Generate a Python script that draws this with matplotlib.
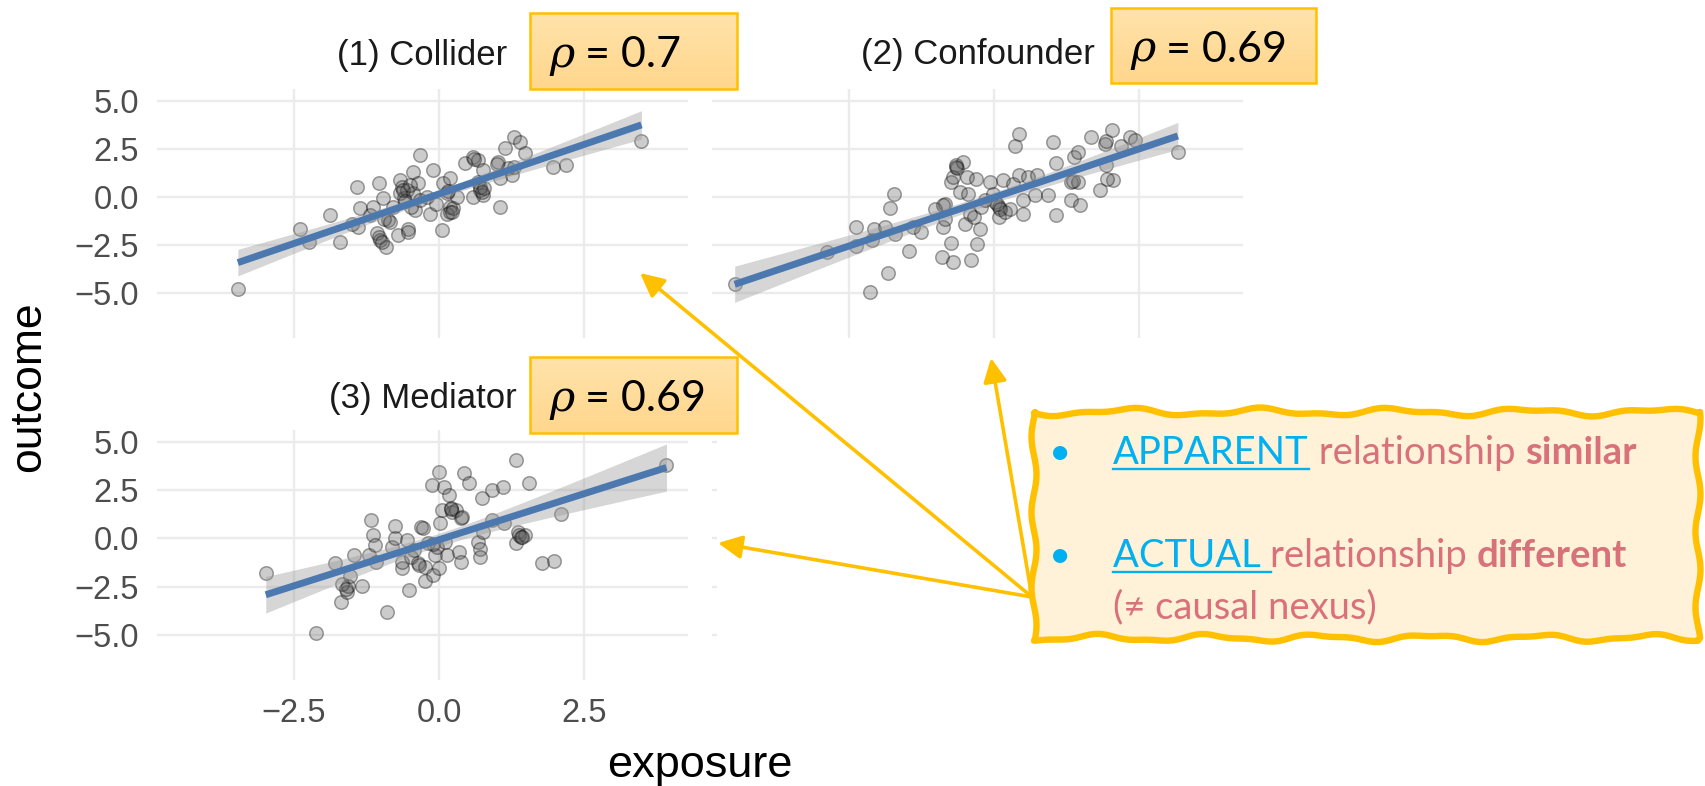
import numpy as np
import matplotlib
matplotlib.use("Agg")
import matplotlib.pyplot as plt
from matplotlib.patches import Polygon, Rectangle, FancyArrowPatch
from matplotlib.lines import Line2D
from matplotlib import font_manager

# ---------------- data ----------------
panel_titles = ["(1) Collider", "(2) Confounder", "(3) Mediator"]
rho_values = ["0.7", "0.69", "0.69"]
x_ticks = [-2.5, 0.0, 2.5]
y_ticks = [-5.0, -2.5, 0.0, 2.5, 5.0]
x_label = "exposure"
y_label = "outcome"

collider_x = [-3.46, -2.39, -2.24, -1.87, -1.70, -1.41, -1.36, -1.39, -1.50, -1.19, -1.13, -1.03,
              -0.97, -1.07, -1.01, -0.91, -1.03, -0.87, -0.95, -0.79, -0.70, -0.67, -0.67, -0.64,
              -0.61, -0.55, -0.53, -0.53, -0.44, -0.44, -0.41, -0.36, -0.33, -0.33, -0.21, -0.16,
              -0.10, -0.05, 0.05, 0.07, 0.13, 0.18, 0.18, 0.13, 0.19, 0.24, 0.30, 0.45, 0.59, 0.59,
              0.67, 0.67, 0.70, 0.76, 0.76, 0.70, 1.05, 1.05, 1.02, 1.13, 1.19, 1.25, 1.28, 1.39,
              1.48, 1.28, 1.96, 2.19, 3.48, -0.62, -0.50, -0.58, 0.74, 0.78, 0.22, -0.48, 0.60,
              -0.98, -0.85, 1.00, 0.15]
collider_y = [-4.76, -1.66, -2.31, -0.93, -2.31, 0.50, -0.55, -1.54, -1.38, -0.93, -0.50, 0.71,
              -0.05, -1.88, -2.23, -2.57, -2.05, -1.21, -1.14, -0.50, -1.98, 0.88, 0.19, 0.54,
              -0.07, 0.38, -1.64, -1.80, 1.31, 0.19, -0.67, 0.71, 2.17, -0.17, 0.00, -0.86,
              1.40, -0.34, -1.72, 0.71, 0.19, 0.97, -0.50, -0.86, -0.76, -0.59, 0.00, 1.74, 2.09, 0.00,
              1.91, 0.79, 0.38, 1.40, 0.09, 0.54, -0.50, 0.97, 1.83, 2.52, 1.48, 1.14, 3.12, 2.86,
              2.26, 1.57, 1.57, 1.66, 2.92, 0.35, 0.60, -0.20, 0.25, 0.45, -0.80, -0.52, 1.95,
              -2.35, -1.30, 1.70, 0.30]

confounder_x = [-4.46, -2.87, -2.37, -2.37, -2.10, -2.07, -2.13, -1.82, -1.88, -1.79, -1.72, -1.70,
                -1.46, -1.39, -1.25, -1.02, -0.90, -0.87, -0.85, -0.84, -0.74, -0.71, -0.74, -0.71,
                -0.65, -0.64, -0.59, -0.53, -0.50, -0.47, -0.44, -0.41, -0.39, -0.34, -0.31, -0.30,
                -0.25, -0.22, -0.16, -0.07, -0.01, 0.02, 0.09, 0.09, 0.15, 0.18, 0.27, 0.33, 0.36,
                0.42, 0.42, 0.49, 0.49, 0.58, 0.70, 0.73, 0.92, 1.01, 1.06, 1.07, 1.32, 1.32, 1.38,
                1.44, 1.45, 1.47, 1.67, 1.82, 1.90, 1.93, 1.93, 2.02, 2.05, 2.18, 2.33, 2.42, 3.16,
                -0.66, -0.88, 0.05, 0.10, 1.95, 1.35]
confounder_y = [-4.52, -2.84, -1.55, -2.53, -2.21, -1.64, -4.95, -3.93, -1.55, -0.57, 0.17, -1.93,
                -2.79, -1.55, -1.81, -0.60, -3.10, -1.55, -0.34, -1.12, -2.38, -3.36, 0.78, 1.03,
                1.64, 1.50, 0.26, 1.81, -1.38, 1.03, 0.17, -0.86, -3.28, -1.03, 0.95, -2.45,
                -1.64, -0.52, -0.17, 0.78, 0.17, -0.26, -0.52, -1.03, 0.86, -0.78, -0.60, 0.69, 2.67,
                3.28, 1.12, -0.17, -0.86, 1.03, 0.09, 1.12, 0.09, 2.84, -0.95, 1.76, 0.78, -0.14, 2.07,
                2.33, 0.78, -0.43, 3.10, 0.34, 2.76, 2.90, 1.64, 3.48, 0.90, 2.67, 3.10, 2.97, 2.33,
                1.58, -0.40, -0.35, -0.60, 0.95, 0.85]

mediator_x = [-2.98, -2.12, -1.79, -1.69, -1.59, -1.56, -1.53, -1.67, -1.47, -1.32, -1.20, -1.17,
              -1.14, -1.11, -1.08, -0.90, -0.81, -0.75, -0.75, -0.64, -0.64, -0.55, -0.52, -0.49,
              -0.43, -0.37, -0.31, -0.28, -0.25, -0.24, -0.19, -0.13, -0.10, -0.07, -0.04, 0.00,
              0.00, 0.02, 0.05, 0.08, 0.11, 0.14, 0.17, 0.20, 0.23, 0.29, 0.34, 0.37, 0.37, 0.40,
              0.43, 0.52, 0.67, 0.70, 0.71, 0.73, 0.76, 0.91, 0.91, 1.10, 1.12, 1.32, 1.32, 1.35,
              1.41, 1.47, 1.54, 1.77, 1.98, 2.10, 3.91, 0.20, 1.38, 1.42, -1.60, -0.35, -0.10]
mediator_y = [-1.78, -4.88, -1.29, -3.28, -2.76, -2.47, -1.95, -2.33, -0.86, -2.47, -0.86, 0.95,
              0.17, -0.34, -1.21, -3.79, -0.43, 0.64, 0.00, -1.55, -1.21, -0.09, -2.67, -0.95,
              -0.60, -1.29, 0.60, 0.52, -1.47, -2.19, -0.26, 2.76, -1.90, -0.86, -0.43, 3.45,
              -1.55, 0.78, 1.47, 2.67, -0.17, -0.86, 2.24, 1.55, 1.38, 1.47, -0.69, 1.03, -1.21, 1.12,
              3.36, 2.84, -0.17, -0.52, -0.95, 2.07, 0.34, 2.50, 0.95, 2.67, 0.81, 4.05, -0.26, 0.34,
              0.09, 0.17, 2.84, -1.26, -1.16, 1.26, 3.79, 1.50, 0.20, 0.10, -2.60, -1.35, -0.30]

panels_x = [collider_x, confounder_x, mediator_x]
panels_y = [collider_y, confounder_y, mediator_y]

# ---------------- fonts ----------------
avail = {f.name for f in font_manager.fontManager.ttflist}
sans = "Liberation Sans" if "Liberation Sans" in avail else "DejaVu Sans"
box_font = "Lato" if "Lato" in avail else "DejaVu Sans"

W, H = 1705, 786
fig = plt.figure(figsize=(W / 100, H / 100), dpi=100, facecolor="white")


def fx(x):
    return x / W


def fy(y):
    return 1 - y / H


grid_col = "#EBEBEB"
tick_col = "#4D4D4D"
XLIM = (-4.85, 4.28)
YLIM = (-7.31, 5.60)

rects = [
    (157, 89, 688, 338),
    (712, 89, 1243, 338),
    (157, 430, 688, 680),
]
title_pads = [17.5, 18.0, 15.5]


def fmt(v):
    return f"{v:.1f}".replace("-", "\u2212")


axes = []
for i, (x0, y0, x1, y1) in enumerate(rects):
    ax = fig.add_axes([fx(x0), fy(y1), (x1 - x0) / W, (y1 - y0) / H])
    ax.set_xlim(*XLIM)
    ax.set_ylim(*YLIM)
    ax.set_xticks(x_ticks)
    ax.set_yticks(y_ticks)
    ax.grid(True, color=grid_col, lw=1.7)
    ax.set_axisbelow(True)
    for s in ax.spines.values():
        s.set_visible(False)
    ax.set_facecolor("white")
    ax.tick_params(length=0, labelsize=23.5, labelcolor=tick_col, pad=13)
    ax.set_xticklabels([fmt(v) for v in x_ticks], family=sans)
    ax.set_yticklabels([fmt(v) for v in y_ticks], family=sans)
    if i != 2:
        ax.tick_params(labelbottom=False)
    if i == 1:
        ax.tick_params(labelleft=False)

    xs = np.asarray(panels_x[i])
    ys = np.asarray(panels_y[i])
    ax.scatter(xs, ys, s=95, facecolor=(0.35, 0.35, 0.35, 0.30),
               edgecolor=(0.0, 0.0, 0.0, 0.35), linewidths=1.1, zorder=2)

    # linear fit with 95% band
    n = len(xs)
    b, a = np.polyfit(xs, ys, 1)
    xg = np.linspace(xs.min(), xs.max(), 120)
    yg = a + b * xg
    resid = ys - (a + b * xs)
    s_e = np.sqrt(np.sum(resid ** 2) / (n - 2))
    sxx = np.sum((xs - xs.mean()) ** 2)
    se = s_e * np.sqrt(1.0 / n + (xg - xs.mean()) ** 2 / sxx)
    ax.fill_between(xg, yg - 1.98 * se, yg + 1.98 * se, color="#999999", alpha=0.4,
                    lw=0, zorder=3)
    ax.plot(xg, yg, color="#4C78B0", lw=5.0, solid_capstyle="butt", zorder=4)

    ax.set_title(panel_titles[i], fontsize=25, family=sans, color="#1A1A1A",
                 pad=title_pads[i])
    axes.append(ax)

# remnant stubs of an empty 4th panel's gridlines
ax4 = fig.add_axes([fx(712), fy(680), 5 / W, (680 - 430) / H])
ax4.set_ylim(*YLIM)
ax4.set_yticks(y_ticks)
ax4.set_xticks([])
ax4.grid(True, axis="y", color=grid_col, lw=1.7)
ax4.tick_params(length=0, labelleft=False)
for s in ax4.spines.values():
    s.set_visible(False)

# axis labels
fig.text(fx(29), fy(387), y_label, rotation=90, fontsize=32, family=sans,
         ha="center", va="center", color="black")
fig.text(fx(700), fy(766), x_label, fontsize=32.5, family=sans,
         ha="center", va="center", color="black")

renderer = fig.canvas.get_renderer()


def draw_segments(x_px, base_px, segs, size, z=8):
    x = x_px
    for seg in segs:
        txt, color, weight, style, family, underline = seg
        t = fig.text(fx(x), fy(base_px), txt, color=color, fontsize=size,
                     fontweight=weight, fontstyle=style, family=family,
                     ha="left", va="baseline", zorder=z)
        bb = t.get_window_extent(renderer)
        if underline:
            fig.add_artist(Line2D([bb.x0 / W, bb.x1 / W],
                                  [fy(base_px + 4.5)] * 2, transform=fig.transFigure,
                                  color=color, lw=1.7, zorder=z))
        x = bb.x1


# rho boxes
rho_boxes = [(530, 13, 737, 89), (1111, 8, 1316, 83), (530, 357, 737, 433)]
grad = np.linspace(0, 1, 64).reshape(-1, 1)
top_c = np.array([1.0, 0.89, 0.67])
bot_c = np.array([1.0, 0.84, 0.55])
grad_img = top_c[None, None, :] * (1 - grad[:, :, None]) + bot_c[None, None, :] * grad[:, :, None]
for (x0, y0, x1, y1), val in zip(rho_boxes, rho_values):
    bax = fig.add_axes([fx(x0), fy(y1), (x1 - x0) / W, (y1 - y0) / H], zorder=6)
    bax.imshow(grad_img, aspect="auto", extent=(0, 1, 0, 1))
    bax.set_xlim(0, 1)
    bax.set_ylim(0, 1)
    bax.axis("off")
    bax.add_patch(Rectangle((0, 0), 1, 1, fill=False, edgecolor="#FFC000", lw=1.8,
                            transform=bax.transAxes, clip_on=False))
    base = (y0 + y1) / 2 + 16
    draw_segments(x0 + 19, base, [
        ("\u03c1", "black", "normal", "italic", ["DejaVu Serif"], False),
        (" = " + val, "black", "normal", "normal", [box_font, "DejaVu Sans"], False),
    ], 31, z=9)

# arrows
start = (1032, 597)
targets = [(640, 273), (991, 358), (718, 543)]
for tx, ty in targets:
    arr = FancyArrowPatch((fx(start[0]), fy(start[1])), (fx(tx), fy(ty)),
                          transform=fig.transFigure,
                          arrowstyle="-|>,head_length=0.65,head_width=0.32",
                          mutation_scale=22, lw=2.6, color="#FFC000",
                          shrinkA=0, shrinkB=0, zorder=5)
    fig.add_artist(arr)


# wavy text box
def wavy_outline(x0, y0, x1, y1):
    t = np.linspace(0, 1, 120)
    top = np.c_[x0 + (x1 - x0) * t,
                y0 + 3.0 * np.sin(t * 2 * np.pi * 5 + 0.3) + 1.5 * np.sin(t * 2 * np.pi * 11)]
    right = np.c_[x1 + 2.5 * np.sin(t * 2 * np.pi * 3 + 1.0), y0 + (y1 - y0) * t]
    bottom = np.c_[x1 - (x1 - x0) * t,
                   y1 + 3.0 * np.sin(t * 2 * np.pi * 6 + 2.0) + 1.2 * np.sin(t * 2 * np.pi * 13)]
    left = np.c_[x0 + 2.5 * np.sin(t * 2 * np.pi * 3 + 0.5), y1 - (y1 - y0) * t]
    pts = np.vstack([top, right, bottom, left])
    return np.c_[pts[:, 0] / W, 1 - pts[:, 1] / H]


poly = Polygon(wavy_outline(1034, 412, 1698, 638), closed=True, transform=fig.transFigure,
               facecolor="#FFF2D8", edgecolor="#FFC000", lw=4.6, zorder=7,
               joinstyle="round")
fig.add_artist(poly)

cyan = "#00B0F0"
pink = "#D9717B"
bf = [box_font, "DejaVu Sans"]
size_box = 27.5
fig.text(fx(1060), fy(464), "\u2022", color=cyan, fontsize=size_box, family=bf,
         ha="center", va="baseline", zorder=8)
fig.text(fx(1060), fy(567), "\u2022", color=cyan, fontsize=size_box, family=bf,
         ha="center", va="baseline", zorder=8)
draw_segments(1113, 464, [
    ("APPARENT", cyan, "normal", "normal", bf, True),
    (" relationship ", pink, "normal", "normal", bf, False),
    ("similar", pink, "bold", "normal", bf, False),
], size_box)
draw_segments(1113, 567, [
    ("ACTUAL\u00a0", cyan, "normal", "normal", bf, True),
    ("relationship ", pink, "normal", "normal", bf, False),
    ("different", pink, "bold", "normal", bf, False),
], size_box)
draw_segments(1113, 618, [
    ("(\u2260 causal nexus)", pink, "normal", "normal", bf, False),
], size_box)

fig.savefig("out.png", dpi=100, facecolor="white")
